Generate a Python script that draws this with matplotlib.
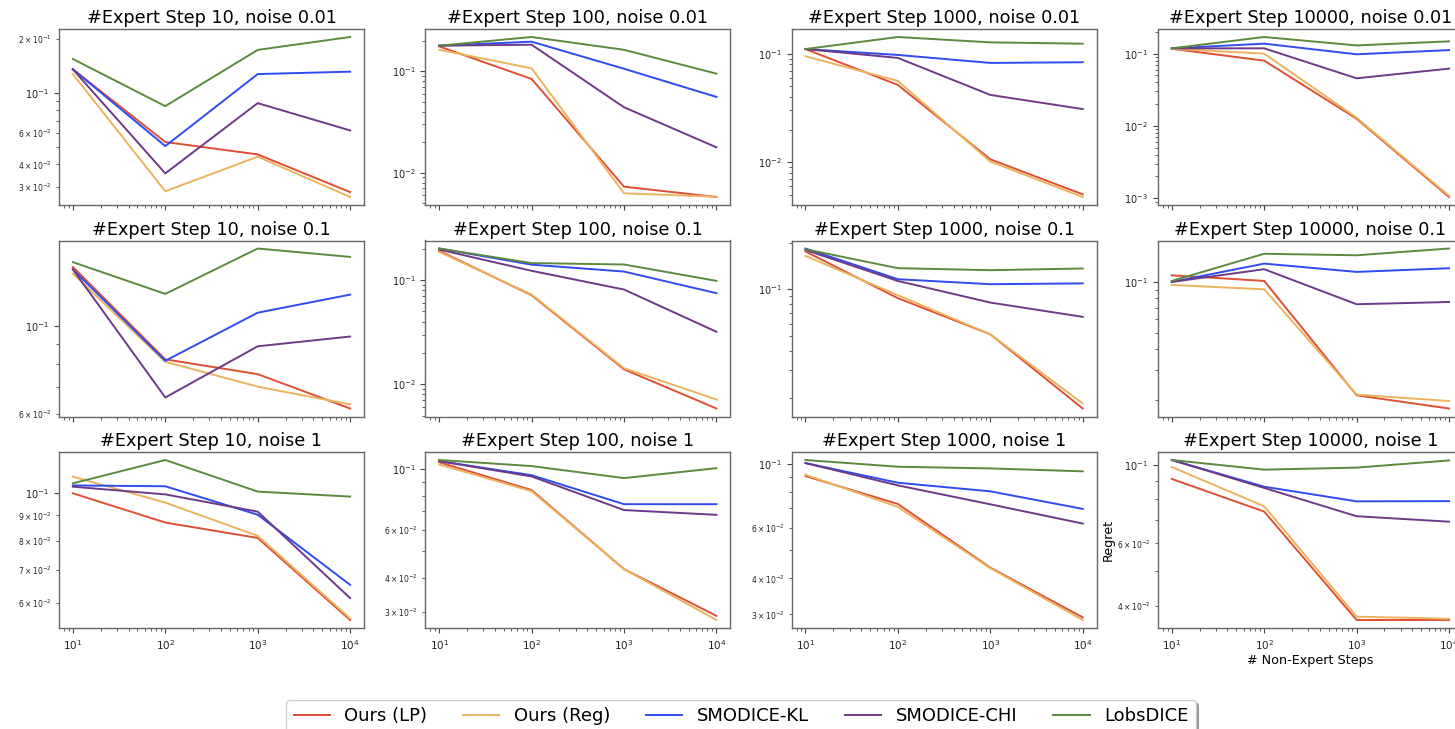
import matplotlib
matplotlib.use("Agg")
import matplotlib.pyplot as plt

non_expert_steps = [10, 100, 1000, 10000]
expert_steps = [10, 100, 1000, 10000]
noises = ["0.01", "0.1", "1"]
methods = ["Ours (LP)", "Ours (Reg)", "SMODICE-KL", "SMODICE-CHI", "LobsDICE"]
colors = ["#de4f33", "#ecb35e", "#2f4cf0", "#6e3a88", "#5b8a3e"]

# rows: noise 0.01 (4 expert steps), noise 0.1, noise 1
ours_lp = [
    [0.135, 0.0533, 0.0455, 0.0281], [0.176, 0.0841, 0.00728, 0.00576],
    [0.111, 0.0517, 0.0106, 0.00503], [0.117, 0.080, 0.0126, 0.00104],
    [0.141, 0.0823, 0.0755, 0.0618], [0.1915, 0.0717, 0.0139, 0.00584],
    [0.175, 0.0875, 0.0512, 0.017], [0.1095, 0.1014, 0.0212, 0.0177],
    [0.0997, 0.0871, 0.0811, 0.0555], [0.106, 0.0838, 0.043, 0.029],
    [0.0906, 0.0725, 0.0436, 0.0293], [0.0913, 0.0738, 0.0364, 0.0364],
]
ours_reg = [
    [0.127, 0.0284, 0.0442, 0.0264], [0.163, 0.107, 0.00626, 0.0058],
    [0.0952, 0.0563, 0.0101, 0.00475], [0.117, 0.100, 0.0130, 0.00108],
    [0.1356, 0.0811, 0.0702, 0.0633], [0.187, 0.0728, 0.01425, 0.00713],
    [0.164, 0.0915, 0.0512, 0.0183], [0.096, 0.0904, 0.0214, 0.0196],
    [0.1077, 0.0955, 0.0819, 0.0559], [0.104, 0.083, 0.043, 0.028],
    [0.0916, 0.0708, 0.0434, 0.0287], [0.0987, 0.0764, 0.0372, 0.0367],
]
smodice_kl = [
    [0.135, 0.0506, 0.127, 0.131], [0.179, 0.196, 0.106, 0.0559],
    [0.111, 0.0979, 0.0826, 0.0838], [0.1185, 0.1375, 0.098, 0.112],
    [0.139, 0.0816, 0.108, 0.120], [0.2016, 0.141, 0.121, 0.075],
    [0.183, 0.116, 0.1077, 0.109], [0.100, 0.1285, 0.1147, 0.1206],
    [0.1034, 0.103, 0.0903, 0.0653], [0.107, 0.095, 0.0744, 0.0744],
    [0.1005, 0.0859, 0.0802, 0.0697], [0.1033, 0.0868, 0.0789, 0.079],
]
smodice_chi = [
    [0.135, 0.0357, 0.0876, 0.0618], [0.179, 0.183, 0.0442, 0.0178],
    [0.111, 0.0919, 0.0418, 0.0309], [0.1185, 0.1185, 0.0456, 0.0621],
    [0.139, 0.0659, 0.0888, 0.094], [0.197, 0.123, 0.0813, 0.0319],
    [0.179, 0.113, 0.082, 0.0663], [0.100, 0.119, 0.0737, 0.076],
    [0.1028, 0.0992, 0.0916, 0.0614], [0.107, 0.094, 0.0708, 0.068],
    [0.1005, 0.0841, 0.0723, 0.0620], [0.1033, 0.0861, 0.0716, 0.0691],
]
lobsdice = [
    [0.154, 0.0843, 0.173, 0.204], [0.179, 0.218, 0.163, 0.0948],
    [0.111, 0.1435, 0.128, 0.1245], [0.1185, 0.170, 0.130, 0.148],
    [0.145, 0.1205, 0.157, 0.1495], [0.2016, 0.146, 0.1415, 0.0985],
    [0.181, 0.1366, 0.1326, 0.136], [0.1014, 0.147, 0.144, 0.158],
    [0.1044, 0.1163, 0.1005, 0.0982], [0.108, 0.1026, 0.0927, 0.1008],
    [0.103, 0.0976, 0.0963, 0.0941], [0.1033, 0.097, 0.0983, 0.103],
]
series = [ours_lp, ours_reg, smodice_kl, smodice_chi, lobsdice]

W, H = 1455, 729
fig = plt.figure(figsize=(W / 100, H / 100), dpi=100)

ax_left0 = 59
ax_w = 305
col_pitch = 366.3
row_tops = [29, 240.5, 452]
ax_h = 176
spine_col = "#666666"

handles = []
for r in range(3):
    for c in range(4):
        x0 = (ax_left0 + c * col_pitch) / W
        y0 = 1 - (row_tops[r] + ax_h) / H
        ax = fig.add_axes([x0, y0, ax_w / W, ax_h / H])
        idx = r * 4 + c
        for m, vals in enumerate(series):
            ln, = ax.plot(non_expert_steps, vals[idx], color=colors[m],
                          lw=1.4, label=methods[m])
            if idx == 0:
                handles.append(ln)
        ax.set_xscale("log")
        ax.set_yscale("log")
        ax.set_title(f"#Expert Step {expert_steps[c]}, noise {noises[r]}",
                     fontsize=12.7, pad=4)
        for s in ax.spines.values():
            s.set_color(spine_col)
            s.set_linewidth(1.0)
        ax.tick_params(which="both", colors="#444444", labelcolor="#222222")
        ax.tick_params(axis="x", which="major", labelsize=7.5)
        ax.tick_params(axis="y", which="major", labelsize=7)
        ax.tick_params(axis="y", which="minor", labelsize=5.5)
        if r < 2:
            ax.tick_params(axis="x", labelbottom=False)
        if r == 2 and c == 3:
            ax.set_ylabel("Regret", fontsize=9.2, labelpad=2)
            ax.set_xlabel("# Non-Expert Steps", fontsize=9.2, labelpad=2)

fig.legend(handles=handles, labels=methods, loc="upper center",
           bbox_to_anchor=(741 / W, 1 - 691 / H), ncol=5, fontsize=13,
           frameon=True, edgecolor="#cccccc", shadow=True)

fig.savefig("out.png", dpi=100)
